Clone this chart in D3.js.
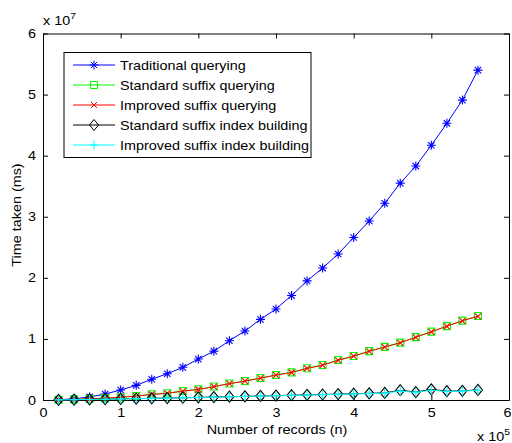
<!DOCTYPE html>
<html>
<head>
<meta charset="utf-8">
<script src="https://cdn.jsdelivr.net/npm/d3@7"></script>
<style>
  body { margin: 0; background: #fff; }
  text { font-family: "Liberation Sans", Arial, sans-serif; fill: #000; }
</style>
</head>
<body>
<script>
// records (n)
var records = [20000, 40000, 60000, 80000, 100000, 120000, 140000, 160000, 180000, 200000,
  220000, 240000, 260000, 280000, 300000, 320000, 340000, 360000, 380000, 400000,
  420000, 440000, 460000, 480000, 500000, 520000, 540000, 560000];

// time taken (ms)
var traditionalQuery = [0.005e7, 0.02e7, 0.05e7, 0.098e7, 0.164e7, 0.24e7, 0.34e7, 0.43e7, 0.535e7, 0.67e7,
  0.80e7, 0.97e7, 1.13e7, 1.32e7, 1.49e7, 1.71e7, 1.95e7, 2.16e7, 2.39e7, 2.66e7,
  2.93e7, 3.22e7, 3.55e7, 3.83e7, 4.17e7, 4.53e7, 4.91e7, 5.40e7];
var standardQuery = [0.003e7, 0.01e7, 0.02e7, 0.03e7, 0.045e7, 0.065e7, 0.093e7, 0.11e7, 0.147e7, 0.175e7,
  0.22e7, 0.27e7, 0.31e7, 0.36e7, 0.41e7, 0.453e7, 0.52e7, 0.573e7, 0.655e7, 0.72e7,
  0.80e7, 0.87e7, 0.94e7, 1.03e7, 1.12e7, 1.21e7, 1.30e7, 1.375e7];
var improvedQuery = [0.003e7, 0.009e7, 0.019e7, 0.03e7, 0.044e7, 0.064e7, 0.09e7, 0.11e7, 0.145e7, 0.172e7,
  0.218e7, 0.268e7, 0.308e7, 0.357e7, 0.408e7, 0.45e7, 0.517e7, 0.57e7, 0.65e7, 0.717e7,
  0.797e7, 0.866e7, 0.937e7, 1.027e7, 1.117e7, 1.207e7, 1.297e7, 1.37e7];
var standardIndex = [0.003e7, 0.006e7, 0.01e7, 0.014e7, 0.018e7, 0.022e7, 0.027e7, 0.032e7, 0.037e7, 0.043e7,
  0.048e7, 0.054e7, 0.06e7, 0.066e7, 0.072e7, 0.078e7, 0.084e7, 0.09e7, 0.097e7, 0.103e7,
  0.11e7, 0.116e7, 0.16e7, 0.13e7, 0.175e7, 0.145e7, 0.15e7, 0.165e7];
var improvedIndex = [0.002e7, 0.005e7, 0.009e7, 0.013e7, 0.017e7, 0.021e7, 0.026e7, 0.031e7, 0.036e7, 0.041e7,
  0.046e7, 0.052e7, 0.058e7, 0.064e7, 0.07e7, 0.075e7, 0.081e7, 0.087e7, 0.093e7, 0.099e7,
  0.105e7, 0.112e7, 0.145e7, 0.125e7, 0.16e7, 0.14e7, 0.145e7, 0.158e7];

var xTicks = [0, 100000, 200000, 300000, 400000, 500000, 600000];
var yTicks = [0, 1e7, 2e7, 3e7, 4e7, 5e7, 6e7];

var series = [
  {name: "Traditional querying", values: traditionalQuery, color: "#0000ff", marker: "asterisk"},
  {name: "Standard suffix querying", values: standardQuery, color: "#00ff00", marker: "square"},
  {name: "Improved suffix querying", values: improvedQuery, color: "#ff0000", marker: "x"},
  {name: "Standard suffix index building", values: standardIndex, color: "#000000", marker: "diamond"},
  {name: "Improved suffix index building", values: improvedIndex, color: "#00ffff", marker: "plus"}
];

var w = 512, h = 443;
var fs = 12.5;
var stretch = 1.15; // glyphs in the picture are wider than tall

var svg = d3.select("body").append("svg")
  .attr("width", w)
  .attr("height", h);

var x = d3.scaleLinear().domain([0, 600000]).range([43, 509]);
var y = d3.scaleLinear().domain([0, 6e7]).range([400, 33.5]);

function markerPath(type) {
  if (type == "asterisk") return "M-4.5,0H4.5M0,-4.5V4.5M-3.2,-3.2L3.2,3.2M-3.2,3.2L3.2,-3.2";
  if (type == "square") return "M-3.5,-3.5H3.5V3.5H-3.5Z";
  if (type == "x") return "M-3,-3L3,3M-3,3L3,-3";
  if (type == "diamond") return "M0,-5.5L4.5,0L0,5.5L-4.5,0Z";
  return "M-4,0H4M0,-4.5V4.5";
}

// box
svg.append("rect")
  .attr("x", 43).attr("y", 33.5)
  .attr("width", 466).attr("height", 366.5)
  .attr("fill", "#fff");

// axes, ticks inward on all four sides
var fmtX = function(d) { return d / 1e5; };
var fmtY = function(d) { return d / 1e7; };

var gx = svg.append("g").attr("transform", "translate(0,400)")
  .call(d3.axisBottom(x).tickValues(xTicks).tickFormat(fmtX).tickSizeInner(-5).tickSizeOuter(0).tickPadding(8));
var gy = svg.append("g").attr("transform", "translate(43,0)")
  .call(d3.axisLeft(y).tickValues(yTicks).tickFormat(fmtY).tickSizeInner(-5).tickSizeOuter(0).tickPadding(7));
svg.append("g").attr("transform", "translate(0,33.5)")
  .call(d3.axisTop(x).tickValues(xTicks).tickFormat("").tickSizeInner(-5).tickSizeOuter(0));
svg.append("g").attr("transform", "translate(509,0)")
  .call(d3.axisRight(y).tickValues(yTicks).tickFormat("").tickSizeInner(-5).tickSizeOuter(0));

svg.selectAll(".domain").attr("stroke", "#000");
svg.selectAll(".tick line").attr("stroke", "#000");
svg.selectAll(".tick text").style("font-family", "Liberation Sans, Arial, sans-serif").attr("font-size", fs);
gy.selectAll(".tick text").attr("x", -7 / stretch).attr("transform", "scale(" + stretch + ",1)");
gx.selectAll(".tick text").attr("transform", "scale(" + stretch + ",1)");
// last label sits on the window edge, keep it inside
gx.selectAll(".tick text").filter(function(d) { return d == 600000; })
  .attr("text-anchor", "end").attr("x", 2 / stretch);

// lines and markers
var line = d3.line()
  .x(function(d, i) { return x(records[i]); })
  .y(function(d) { return y(d); });

series.forEach(function(s) {
  svg.append("path")
    .datum(s.values)
    .attr("d", line)
    .attr("fill", "none")
    .attr("stroke", s.color)
    .attr("stroke-width", 1);
  svg.append("g").selectAll("path")
    .data(s.values)
    .enter()
    .append("path")
    .attr("transform", function(d, i) { return "translate(" + x(records[i]) + "," + y(d) + ")"; })
    .attr("d", markerPath(s.marker))
    .attr("fill", "none")
    .attr("stroke", s.color)
    .attr("stroke-width", 1.1);
});

// legend
var legend = svg.append("g");
legend.append("rect")
  .attr("x", 64).attr("y", 52.5)
  .attr("width", 247).attr("height", 105)
  .attr("fill", "#fff")
  .attr("stroke", "#000");

series.forEach(function(s, i) {
  var ry = 65 + i * 20;
  legend.append("line")
    .attr("x1", 73).attr("x2", 115)
    .attr("y1", ry).attr("y2", ry)
    .attr("stroke", s.color);
  legend.append("path")
    .attr("transform", "translate(94," + ry + ")")
    .attr("d", markerPath(s.marker))
    .attr("fill", "none")
    .attr("stroke", s.color);
  legend.append("g")
    .attr("transform", "translate(120," + ry + ") scale(" + stretch + ",1)")
    .append("text")
    .attr("dy", "0.36em")
    .attr("font-size", fs)
    .text(s.name);
});

// axis labels
svg.append("g")
  .attr("transform", "translate(277,434) scale(" + stretch + ",1)")
  .append("text")
  .attr("text-anchor", "middle")
  .attr("font-size", fs)
  .text("Number of records (n)");

svg.append("g")
  .attr("transform", "translate(21,215) rotate(-90) scale(" + stretch + ",1)")
  .append("text")
  .attr("text-anchor", "middle")
  .attr("font-size", fs)
  .text("Time taken (ms)");

// exponents
var ex = svg.append("g").attr("transform", "translate(43,25) scale(" + stretch + ",1)")
  .append("text").attr("font-size", fs);
ex.append("tspan").text("x 10");
ex.append("tspan").attr("dy", -6).attr("font-size", 9).text("7");

var ex2 = svg.append("g").attr("transform", "translate(477,441) scale(" + stretch + ",1)")
  .append("text").attr("font-size", fs);
ex2.append("tspan").text("x 10");
ex2.append("tspan").attr("dy", -6).attr("font-size", 9).text("5");
</script>
</body>
</html>
